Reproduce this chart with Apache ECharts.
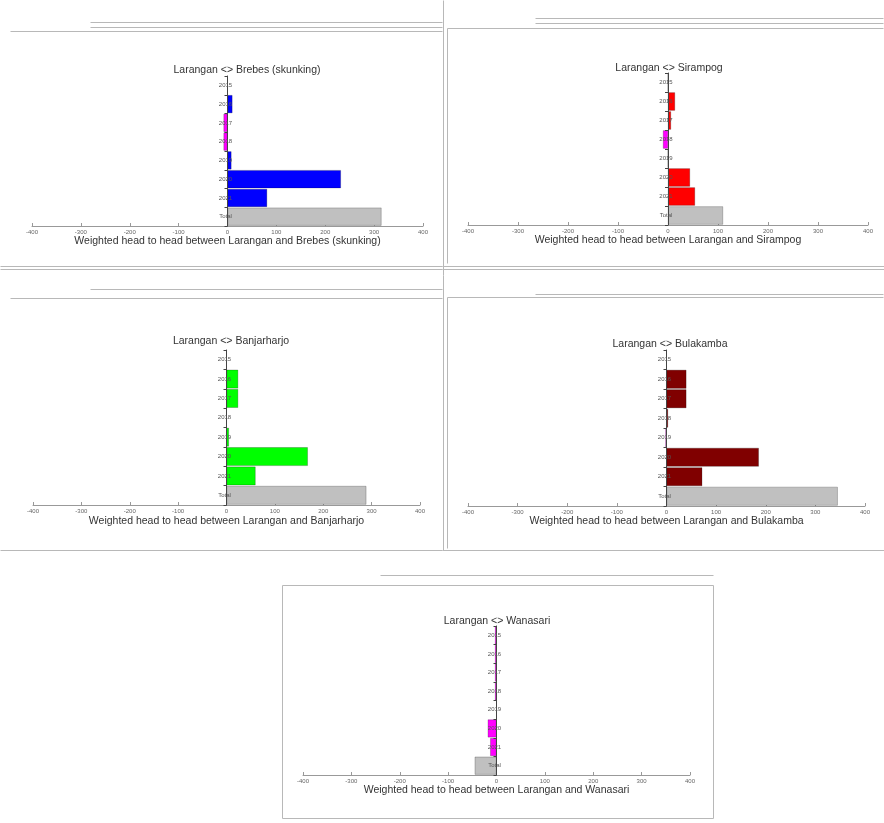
<!DOCTYPE html>
<html>
<head>
<meta charset="utf-8">
<script src="https://cdn.jsdelivr.net/npm/echarts@6/dist/echarts.min.js"></script>
<style>
  html, body { margin: 0; padding: 0; background: #fff; }
  #chart { width: 884px; height: 823px; }
</style>
</head>
<body>
<div id="chart"></div>
<script>
// ---- data ----
const categories = ['2015', '2016', '2017', '2018', '2019', '2020', '2021', 'Total'];
const opponents = ['Brebes (skunking)', 'Sirampog', 'Banjarharjo', 'Bulakamba', 'Wanasari'];
const brebesValues = [0, 10, -8, -8, 8, 232, 81, 315];
const sirampogValues = [0, 14, 6, -10, 0, 44, 54, 110];
const banjarharjoValues = [0, 24, 24, 0, 5, 168, 60, 289];
const bulakambaValues = [0, 40, 40, 3, -2, 186, 72, 345];
const wanasariValues = [-3, -3, -3, -3, 0, -18, -13, -45];
const axisTicks = [-400, -300, -200, -100, 0, 100, 200, 300, 400];

// ---- styling / layout ----
const seriesValues = [brebesValues, sirampogValues, banjarharjoValues, bulakambaValues, wanasariValues];
const winColors = ['#0000ff', '#ff0000', '#00ff00', '#800000', '#ff00ff'];
const loseColor = '#ff00ff';
const totalColor = '#c0c0c0';

const panels = [
  { left: 32,  top: 76,  width: 391, height: 150, titleX: 247, titleY: 70,  nameGap: 8 },
  { left: 468, top: 73,  width: 400, height: 152, titleX: 669, titleY: 68,  nameGap: 7 },
  { left: 33,  top: 350, width: 387, height: 155, titleX: 231, titleY: 341, nameGap: 11 },
  { left: 468, top: 350, width: 397, height: 156, titleX: 670, titleY: 344, nameGap: 9 },
  { left: 303, top: 626, width: 387, height: 149, titleX: 497, titleY: 621, nameGap: 8 }
];

const FONT = '"Liberation Sans", Arial, sans-serif';

const grids = [], xAxes = [], yAxes = [], series = [], texts = [];
panels.forEach((p, i) => {
  grids.push({ left: p.left, top: p.top, width: p.width, height: p.height, containLabel: false });
  xAxes.push({
    gridIndex: i, type: 'value',
    min: axisTicks[0], max: axisTicks[axisTicks.length - 1],
    interval: axisTicks[1] - axisTicks[0],
    name: 'Weighted head to head between Larangan and ' + opponents[i],
    nameLocation: 'middle', nameGap: p.nameGap,
    nameTextStyle: { fontSize: 10.5, color: '#333', fontFamily: FONT },
    axisLine: { show: true, lineStyle: { color: '#999', width: 1 } },
    axisTick: { show: true, length: 3, inside: true, lineStyle: { color: '#999' } },
    axisLabel: { fontSize: 6, color: '#666', margin: 3, fontFamily: FONT },
    splitLine: { show: false }
  });
  yAxes.push({
    gridIndex: i, type: 'category', inverse: true, data: categories,
    position: 'left',
    offset: -(p.width / 2),
    axisLine: { show: true, onZero: false, lineStyle: { color: '#444', width: 1 } },
    axisTick: { show: true, length: 3, lineStyle: { color: '#444' } },
    axisLabel: { fontSize: 6, color: '#555', margin: 2, align: 'center', fontFamily: FONT },
    splitLine: { show: false },
    z: 5
  });
  const vals = seriesValues[i];
  series.push({
    type: 'bar', xAxisIndex: i, yAxisIndex: i,
    barCategoryGap: '4%',
    data: vals.map((v, k) => ({
      value: v,
      itemStyle: {
        color: k === vals.length - 1 ? totalColor : (v >= 0 ? winColors[i] : loseColor),
        borderColor: 'rgba(0,0,0,0.45)', borderWidth: 0.5
      }
    })),
    silent: true, animation: false
  });
  texts.push({
    type: 'text', x: p.titleX, y: p.titleY,
    style: { text: 'Larangan <> ' + opponents[i], fill: '#333', font: '10.5px ' + FONT, align: 'center', verticalAlign: 'middle' }
  });
});

// window frames (decorative)
const frameStroke = { stroke: '#b8b8b8', lineWidth: 1, fill: null };
const lines = [
  [443, 0, 443, 550], [0, 266, 884, 266], [0, 269, 884, 269], [0, 550, 884, 550],
  [90, 22, 442, 22], [90, 27, 442, 27], [10, 31, 442, 31],
  [535, 18, 883, 18], [535, 23, 883, 23], [447, 28, 883, 28], [447, 28, 447, 263],
  [90, 289, 442, 289], [10, 298, 442, 298],
  [535, 294, 883, 294], [447, 297, 883, 297], [447, 297, 447, 548],
  [380, 575, 713, 575], [282, 585, 713, 585], [282, 585, 282, 818], [713, 585, 713, 818], [282, 818, 713, 818]
];
lines.forEach(l => texts.push({ type: 'line', shape: { x1: l[0] + 0.5, y1: l[1] + 0.5, x2: l[2] + 0.5, y2: l[3] + 0.5 }, style: frameStroke, silent: true }));

const chart = echarts.init(document.getElementById('chart'), null, { renderer: 'canvas' });
chart.setOption({
  animation: false,
  backgroundColor: '#ffffff',
  grid: grids, xAxis: xAxes, yAxis: yAxes, series: series,
  graphic: texts
});
</script>
</body>
</html>
